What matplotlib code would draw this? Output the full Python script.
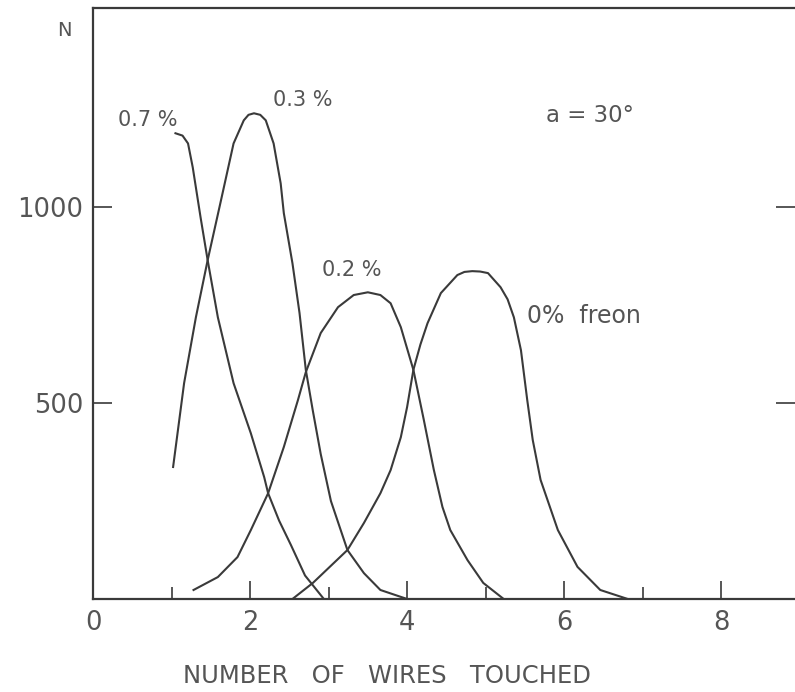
import matplotlib
matplotlib.use("Agg")
import matplotlib.pyplot as plt

plt.rcParams['font.family'] = ['DejaVu Sans']

# curve readings (number of wires touched, N)
x_07 = [1.05, 1.14, 1.21, 1.27, 1.37, 1.46, 1.59, 1.79, 2.01, 2.18, 2.23, 2.37,
        2.52, 2.70, 2.94]
n_07 = [1189, 1183, 1163, 1102, 974, 865, 719, 551, 423, 311, 270, 200,
        138, 60, 0]

x_03 = [1.02, 1.16, 1.31, 1.46, 1.63, 1.79, 1.92, 1.98, 2.05, 2.13, 2.20, 2.30,
        2.39, 2.43, 2.54, 2.63, 2.71, 2.80, 2.90, 3.03, 3.24, 3.45, 3.66, 4.0]
n_03 = [337, 551, 719, 865, 1018, 1163, 1222, 1236, 1240, 1236, 1222, 1163,
        1061, 985, 857, 730, 585, 480, 370, 250, 125, 66, 23, 0]

x_02 = [1.28, 1.59, 1.84, 2.01, 2.23, 2.43, 2.61, 2.71, 2.90, 3.12, 3.32, 3.50,
        3.66, 3.79, 3.92, 4.08, 4.21, 4.34, 4.45, 4.55, 4.77, 4.97, 5.23]
n_02 = [23, 56, 107, 176, 270, 388, 508, 579, 679, 745, 776, 783,
        776, 755, 694, 585, 460, 330, 235, 176, 99, 41, 0]

x_00 = [2.54, 2.80, 3.24, 3.45, 3.66, 3.79, 3.92, 4.00, 4.08, 4.17, 4.26, 4.43,
        4.64, 4.73, 4.83, 4.93, 5.03, 5.19, 5.28, 5.36, 5.45, 5.53, 5.60, 5.70,
        5.92, 6.17, 6.46, 6.81]
n_00 = [0, 41, 125, 194, 270, 329, 413, 490, 585, 650, 704, 781,
        827, 835, 837, 836, 832, 796, 765, 719, 635, 508, 406, 304,
        176, 82, 23, 0]

curve_labels = ["0.7 %", "0.3 %", "0.2 %", "0%  freon"]
x_major = [0, 2, 4, 6, 8]
x_minor = [1, 3, 5, 7]
y_major = [500, 1000]

ink = "#3a3a3a"
grey = "#555555"

fig = plt.figure(figsize=(7.95, 6.92), dpi=100)
ax = fig.add_axes([0.117, 0.1344, 0.883, 0.8536])

for xs, ns in [(x_07, n_07), (x_03, n_03), (x_02, n_02), (x_00, n_00)]:
    ax.plot(xs, ns, color=ink, lw=1.5, solid_joinstyle='round')

ax.set_xlim(0, 8.94)
ax.set_ylim(0, 1508)

ax.set_xticks(x_major)
ax.set_xticks(x_minor, minor=True)
ax.set_yticks(y_major)
ax.tick_params(axis='x', which='major', direction='in', length=13, width=1.2,
               colors=ink, labelcolor=grey, labelsize=18.5, pad=8)
ax.tick_params(axis='x', which='minor', direction='in', length=8.5, width=1.2, colors=ink)
ax.tick_params(axis='y', which='major', direction='in', length=14, width=1.2,
               colors=ink, labelcolor=grey, labelsize=18.5, pad=7, right=True)

ax.spines['right'].set_visible(False)
for s in ['left', 'bottom', 'top']:
    ax.spines[s].set_color(ink)
    ax.spines[s].set_linewidth(1.6)

ax.set_xlabel("NUMBER   OF   WIRES   TOUCHED", fontsize=17.5, color=grey, va='center')
ax.xaxis.set_label_coords(0.419, -0.1305)
fig.text(64 / 795, 1 - 30 / 692, "N", fontsize=14, color=grey, ha='center', va='center')

ax.text(0.70, 1222, curve_labels[0], fontsize=15, color=grey, ha='center', va='center')
ax.text(2.67, 1273, curve_labels[1], fontsize=15, color=grey, ha='center', va='center')
ax.text(3.30, 839, curve_labels[2], fontsize=15, color=grey, ha='center', va='center')
ax.text(5.53, 722, curve_labels[3], fontsize=17, color=grey, ha='left', va='center')
ax.text(5.77, 1235, "a = 30°", fontsize=16.5, color=grey, ha='left', va='center')

fig.savefig("out.png", dpi=100)
